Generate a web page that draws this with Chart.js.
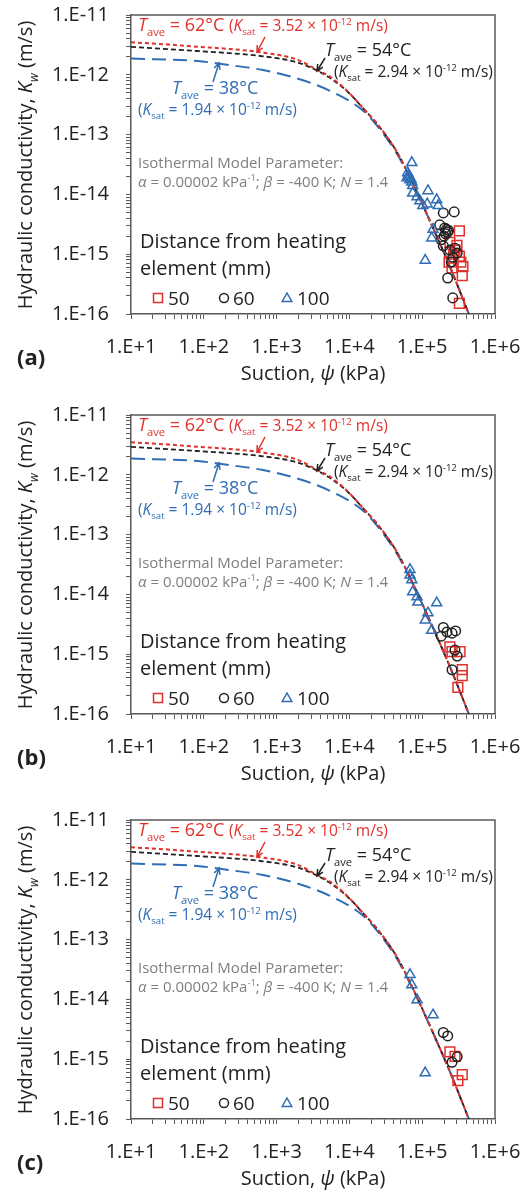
<!DOCTYPE html>
<html>
<head>
<meta charset="utf-8">
<script src="https://cdn.jsdelivr.net/npm/chart.js@4"></script>
<style>
  body { margin: 0; background: #fff; }
  #wrap { position: relative; width: 524px; height: 1192px; }
  canvas { position: absolute; left: 0; }
</style>
</head>
<body>
<div id="wrap">
  <canvas id="chart-a" width="524" height="400" style="top:0"></canvas>
  <canvas id="chart-b" width="524" height="405" style="top:400px"></canvas>
  <canvas id="chart-c" width="524" height="387" style="top:805px"></canvas>
</div>
<script>
const FONT = '"Open Sans", "Noto Sans", sans-serif';
const RED = '#e0312b';
const BLACK = '#222222';
const BLUE = '#2f6db5';
const GRAY = '#7f7f7f';
const AXIS = '#595959';

// axis ticks
const X_TICKS = [1e1, 1e2, 1e3, 1e4, 1e5, 1e6];
const X_TICK_LABELS = ['1.E+1', '1.E+2', '1.E+3', '1.E+4', '1.E+5', '1.E+6'];
const Y_TICKS = [1e-16, 1e-15, 1e-14, 1e-13, 1e-12, 1e-11];
const Y_TICK_LABELS = ['1.E-16', '1.E-15', '1.E-14', '1.E-13', '1.E-12', '1.E-11'];

// model curves [suction kPa, Kw m/s] (same in all panels)
const curve62 = [
  [10, 3.5e-12], [28, 3.25e-12], [80, 2.95e-12], [230, 2.7e-12], [650, 2.35e-12],
  [1900, 1.8e-12], [3500, 1.23e-12], [5400, 9.3e-13], [9300, 5.4e-13], [15500, 2.75e-13],
  [26000, 1.35e-13], [45000, 5.1e-14], [74000, 1.55e-14], [140000, 2.8e-15],
  [240000, 6.2e-16], [430000, 1.05e-16], [460000, 8.5e-17]
];
const curve54 = [
  [10, 2.94e-12], [80, 2.5e-12], [650, 2.04e-12], [1900, 1.62e-12], [3500, 1.2e-12],
  [5400, 8.9e-13], [9300, 5.3e-13], [15500, 2.75e-13], [26000, 1.33e-13], [45000, 5.1e-14],
  [74000, 1.55e-14], [140000, 2.8e-15], [240000, 6.2e-16], [430000, 1.05e-16], [460000, 8.5e-17]
];
const curve38 = [
  [10, 1.87e-12], [81, 1.7e-12], [230, 1.45e-12], [650, 1.2e-12], [1900, 8.7e-13],
  [5400, 5.4e-13], [15500, 2.5e-13], [26000, 1.25e-13], [45000, 4.8e-14], [74000, 1.5e-14],
  [140000, 2.8e-15], [240000, 6.2e-16], [430000, 1.05e-16], [460000, 8.5e-17]
];

// measured points, panel (a)
const sq50A = [
  [324000, 2.45e-15], [240000, 1.58e-15], [282000, 1.17e-15], [324000, 9.3e-16], [234000, 7.4e-16],
  [339000, 7.4e-16], [257000, 5.9e-16], [363000, 6.2e-16], [355000, 4.4e-16], [324000, 1.5e-16],
  [300000, 1.4e-15], [270000, 1.0e-15]
];
const circ60A = [
  [195000, 4.9e-15], [275000, 5.1e-15], [174000, 3.1e-15], [204000, 2.75e-15], [224000, 2.35e-15],
  [200000, 2.0e-15], [182000, 1.74e-15], [195000, 1.38e-15], [240000, 1.17e-15], [282000, 1.26e-15],
  [302000, 1.05e-15], [263000, 8.9e-16], [251000, 7.4e-16], [224000, 4.0e-16], [263000, 1.86e-16],
  [215000, 2.6e-15], [210000, 2.2e-15], [230000, 2.5e-15]
];
const tri100A = [
  [72000, 3.4e-14], [63000, 2.3e-14], [62000, 1.9e-14], [68000, 1.75e-14], [72000, 1.6e-14],
  [74000, 1.4e-14], [74000, 1.05e-14], [85000, 9.1e-15], [93000, 7.8e-15], [117000, 6.9e-15],
  [120000, 1.15e-14], [158000, 8.1e-15], [166000, 6.5e-15], [102000, 6.5e-15], [141000, 2.6e-15],
  [135000, 1.86e-15], [110000, 7.9e-16], [65000, 2.1e-14], [70000, 1.8e-14], [66000, 1.95e-14]
];

// panel (b)
const sq50B = [
  [240000, 1.32e-15], [257000, 1.1e-15], [331000, 1.1e-15], [355000, 5.5e-16], [355000, 4.4e-16],
  [309000, 2.8e-16]
];
const circ60B = [
  [195000, 2.8e-15], [219000, 2.35e-15], [257000, 2.25e-15], [288000, 2.45e-15], [182000, 2.0e-15],
  [282000, 1.17e-15], [302000, 9.3e-16], [257000, 5.5e-16]
];
const tri100B = [
  [68000, 2.6e-14], [68000, 2.1e-14], [72000, 1.75e-14], [74000, 1.1e-14], [85000, 9.1e-15],
  [87000, 7.4e-15], [158000, 7.2e-15], [120000, 4.9e-15], [110000, 3.7e-15], [135000, 2.5e-15]
];

// panel (c)
const sq50C = [[240000, 1.32e-15], [282000, 1.12e-15], [355000, 5.5e-16], [309000, 4.4e-16]];
const circ60C = [[195000, 2.8e-15], [224000, 2.45e-15], [302000, 1.1e-15], [257000, 8.9e-16]];
const tri100C = [[68000, 2.6e-14], [72000, 1.75e-14], [85000, 9.8e-15], [141000, 5.5e-15], [110000, 5.9e-16]];

const toXY = arr => arr.map(p => ({ x: p[0], y: p[1] }));

function tickLabel(value, ticks, labels) {
  const i = ticks.findIndex(t => Math.abs(Math.log10(t) - Math.log10(value)) < 1e-6);
  return i === -1 ? '' : labels[i];
}

// minor ticks 1..9 in each decade
function allTicks(majors) {
  const out = [];
  majors.forEach((m, i) => {
    if (i === majors.length - 1) { out.push(m); return; }
    for (let k = 1; k <= 9; k++) out.push(m * k);
  });
  return out;
}

// rich text runs: {t, size, i (italic), sub, sup, bold}
function runFont(r) {
  const size = (r.sub || r.sup) ? r.size * 0.62 : r.size;
  return (r.i ? 'italic ' : '') + (r.bold ? 'bold ' : '') + size + 'px ' + FONT;
}
function measureRich(ctx, runs) {
  let w = 0;
  runs.forEach(r => { ctx.font = runFont(r); w += ctx.measureText(r.t).width; });
  return w;
}
function drawRich(ctx, x, y, runs, color) {
  ctx.save();
  ctx.fillStyle = color;
  ctx.textAlign = 'left';
  ctx.textBaseline = 'alphabetic';
  runs.forEach(r => {
    ctx.font = runFont(r);
    const dy = r.sub ? r.size * 0.28 : r.sup ? -r.size * 0.38 : 0;
    ctx.fillText(r.t, x, y + dy);
    x += ctx.measureText(r.t).width;
  });
  ctx.restore();
}

function tAve(temp, size) {
  return [{ t: 'T', i: true, size }, { t: 'ave', sub: true, size }, { t: ' = ' + temp + '°C', size }];
}
function kSat(val, size) {
  return [
    { t: '(', size }, { t: 'K', i: true, size }, { t: 'sat', sub: true, size },
    { t: ' = ' + val + ' × 10', size }, { t: '-12', sup: true, size }, { t: ' m/s)', size }
  ];
}

function arrow(ctx, x1, y1, x2, y2, color) {
  const a = Math.atan2(y2 - y1, x2 - x1), h = 7;
  ctx.save();
  ctx.strokeStyle = color;
  ctx.lineWidth = 1.5;
  ctx.beginPath();
  ctx.moveTo(x1, y1); ctx.lineTo(x2, y2);
  ctx.moveTo(x2 - h * Math.cos(a - 0.45), y2 - h * Math.sin(a - 0.45));
  ctx.lineTo(x2, y2);
  ctx.lineTo(x2 - h * Math.cos(a + 0.45), y2 - h * Math.sin(a + 0.45));
  ctx.stroke();
  ctx.restore();
}

function marker(ctx, style, x, y, color) {
  ctx.save();
  ctx.strokeStyle = color;
  ctx.lineWidth = 1.5;
  ctx.beginPath();
  if (style === 'rect') ctx.rect(x - 4.5, y - 4.5, 9, 9);
  else if (style === 'circle') ctx.arc(x, y, 4.5, 0, Math.PI * 2);
  else { ctx.moveTo(x, y - 5); ctx.lineTo(x + 4.8, y + 3.5); ctx.lineTo(x - 4.8, y + 3.5); ctx.closePath(); }
  ctx.stroke();
  ctx.restore();
}

function annotations(tag) {
  return {
    id: 'annotations',
    afterDraw(chart) {
      const ctx = chart.ctx;
      const ca = chart.chartArea;

      // frame top/right
      ctx.save();
      ctx.strokeStyle = AXIS;
      ctx.lineWidth = 1.5;
      ctx.beginPath();
      ctx.moveTo(ca.left, ca.top); ctx.lineTo(ca.right, ca.top); ctx.lineTo(ca.right, ca.bottom);
      ctx.stroke();
      ctx.restore();

      // curve labels
      drawRich(ctx, 138, 31, tAve('62', 18).concat([{ t: ' ', size: 18 }], kSat('3.52', 15.5)), RED);
      drawRich(ctx, 325, 56, tAve('54', 18), BLACK);
      drawRich(ctx, 334, 77, kSat('2.94', 15.5), BLACK);
      drawRich(ctx, 172, 94, tAve('38', 18), BLUE);
      drawRich(ctx, 138, 115, kSat('1.94', 15.5), BLUE);
      arrow(ctx, 265, 37, 257, 52, RED);
      arrow(ctx, 325, 58, 317, 71, BLACK);
      arrow(ctx, 213, 82, 219, 63, BLUE);

      // model parameters
      drawRich(ctx, 138, 168, [{ t: 'Isothermal Model Parameter:', size: 15 }], GRAY);
      drawRich(ctx, 138, 187, [
        { t: 'α', i: true, size: 15 }, { t: ' = 0.00002 kPa', size: 15 }, { t: '-1', sup: true, size: 15 },
        { t: '; ', size: 15 }, { t: 'β', i: true, size: 15 }, { t: ' = -400 K; ', size: 15 },
        { t: 'N', i: true, size: 15 }, { t: ' = 1.4', size: 15 }
      ], GRAY);

      // legend
      drawRich(ctx, 140, 248, [{ t: 'Distance from heating', size: 20 }], BLACK);
      drawRich(ctx, 140, 275, [{ t: 'element (mm)', size: 20 }], BLACK);
      marker(ctx, 'rect', 158, 298, RED);
      drawRich(ctx, 168, 305, [{ t: '50', size: 19 }], BLACK);
      marker(ctx, 'circle', 224, 298, BLACK);
      drawRich(ctx, 233, 305, [{ t: '60', size: 19 }], BLACK);
      marker(ctx, 'triangle', 287, 298, BLUE);
      drawRich(ctx, 297, 305, [{ t: '100', size: 19 }], BLACK);

      // axis titles
      const xt = [{ t: 'Suction, ', size: 20 }, { t: 'ψ', i: true, size: 20 }, { t: ' (kPa)', size: 20 }];
      drawRich(ctx, 313 - measureRich(ctx, xt) / 2, 380, xt, BLACK);
      const yt = [
        { t: 'Hydraulic conductivity, ', size: 20 }, { t: 'K', i: true, size: 20 },
        { t: 'w', i: true, sub: true, size: 20 }, { t: ' (m/s)', size: 20 }
      ];
      ctx.save();
      ctx.translate(32, 165);
      ctx.rotate(-Math.PI / 2);
      drawRich(ctx, -measureRich(ctx, yt) / 2, 0, yt, BLACK);
      ctx.restore();

      drawRich(ctx, 17, 365, [{ t: '(' + tag + ')', bold: true, size: 22 }], BLACK);
    }
  };
}

function lineSet(data, color, dash, width, order) {
  return {
    data: toXY(data), showLine: true, pointRadius: 0, borderColor: color,
    borderWidth: width, borderDash: dash, fill: false, cubicInterpolationMode: 'monotone', order
  };
}
function pointSet(data, style, radius, color, order) {
  return {
    data: toXY(data), showLine: false, pointStyle: style, pointRadius: radius,
    pointBorderColor: color, pointBackgroundColor: 'rgba(0,0,0,0)', pointBorderWidth: 1.5, order
  };
}

function makePanel(id, tag, squares, circles, triangles) {
  const canvas = document.getElementById(id);
  const H = canvas.height;
  new Chart(canvas, {
    type: 'scatter',
    data: {
      datasets: [
        pointSet(triangles, 'triangle', 5.8, BLUE, 1),
        pointSet(circles, 'circle', 4.8, BLACK, 2),
        pointSet(squares, 'rect', 6.9, RED, 3),
        lineSet(curve62, RED, [4, 3], 2, 4),
        lineSet(curve54, BLACK, [5, 3], 1.8, 5),
        lineSet(curve38, BLUE, [14, 7], 2, 6)
      ]
    },
    options: {
      responsive: false,
      animation: false,
      devicePixelRatio: 1,
      layout: { padding: { top: 15, right: 29, left: 0, bottom: 0 } },
      plugins: { legend: { display: false }, tooltip: { enabled: false } },
      scales: {
        x: {
          type: 'logarithmic', min: 1e1, max: 1e6,
          afterBuildTicks: axis => { axis.ticks = allTicks(X_TICKS).map(v => ({ value: v })); },
          afterFit: axis => { axis.height = H - 314; axis.paddingLeft = 0; axis.paddingRight = 0; },
          ticks: {
            autoSkip: false, maxRotation: 0, padding: 16, color: BLACK,
            font: { family: FONT, size: 20 },
            callback: v => tickLabel(v, X_TICKS, X_TICK_LABELS)
          },
          grid: { drawOnChartArea: false, drawTicks: true, tickLength: 5, color: AXIS },
          border: { display: true, color: AXIS, width: 1.5 }
        },
        y: {
          type: 'logarithmic', min: 1e-16, max: 1e-11,
          afterBuildTicks: axis => { axis.ticks = allTicks(Y_TICKS).map(v => ({ value: v })); },
          afterFit: axis => { axis.width = 131; axis.paddingTop = 0; axis.paddingBottom = 0; },
          ticks: {
            autoSkip: false, padding: 17, color: BLACK,
            font: { family: FONT, size: 20 },
            callback: v => tickLabel(v, Y_TICKS, Y_TICK_LABELS)
          },
          grid: { drawOnChartArea: false, drawTicks: true, tickLength: 5, color: AXIS },
          border: { display: true, color: AXIS, width: 1.5 }
        }
      }
    },
    plugins: [annotations(tag)]
  });
}

makePanel('chart-a', 'a', sq50A, circ60A, tri100A);
makePanel('chart-b', 'b', sq50B, circ60B, tri100B);
makePanel('chart-c', 'c', sq50C, circ60C, tri100C);
</script>
</body>
</html>
